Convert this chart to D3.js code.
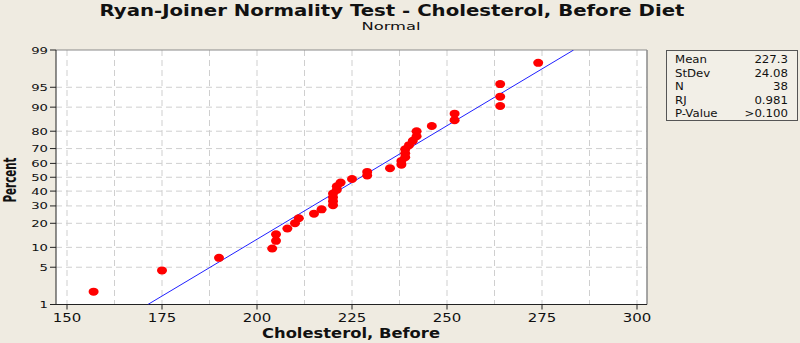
<!DOCTYPE html>
<html>
<head>
<meta charset="utf-8">
<script src="https://cdn.jsdelivr.net/npm/d3@7"></script>
<style>
  body { margin: 0; background: #efebe1; }
  text { font-family: "DejaVu Sans", Verdana, sans-serif; fill: #111; }
</style>
</head>
<body>
<div id="chart"></div>
<script>
// data (sorted cholesterol values)
const cholesterol = [157, 175, 190, 204, 205, 205, 208, 210, 211, 215, 217, 220, 220, 220, 220,
  221, 221, 222, 225, 229, 229, 235, 238, 238, 239, 239, 239, 240, 241, 242, 242, 246,
  252, 252, 264, 264, 264, 274];
const xTicks = [150, 175, 200, 225, 250, 275, 300];
const xGrid = [150, 162.5, 175, 187.5, 200, 212.5, 225, 237.5, 250, 262.5, 275, 287.5, 300];
const yTicks = [1, 5, 10, 20, 30, 40, 50, 60, 70, 80, 90, 95, 99];
const statLabels = ["Mean", "StDev", "N", "RJ", "P-Value"];
const statValues = ["227.3", "24.08", "38", "0.981", ">0.100"];
const fitMean = 227.3, fitSd = 24.08;

const width = 800, height = 343;
const plot = {l: 56, r: 647, t: 50, b: 304.5};

const svg = d3.select("#chart").append("svg")
    .attr("width", width)
    .attr("height", height)
    .style("background-color", "#efebe1");

// inverse normal cdf (Acklam)
function qnorm(p) {
  const a = [-39.69683028665376, 220.9460984245205, -275.9285104469687, 138.3577518672690, -30.66479806614716, 2.506628277459239];
  const b = [-54.47609879822406, 161.5858368580409, -155.6989798598866, 66.80131188771972, -13.28068155288572];
  const c = [-0.007784894002430293, -0.3223964580411365, -2.400758277161838, -2.549732539343734, 4.374664141464968, 2.938163982698783];
  const d = [0.007784695709041462, 0.3224671290700398, 2.445134137142996, 3.754408661907416];
  const pl = 0.02425;
  let q, r;
  if (p < pl) {
    q = Math.sqrt(-2 * Math.log(p));
    return (((((c[0]*q+c[1])*q+c[2])*q+c[3])*q+c[4])*q+c[5]) / ((((d[0]*q+d[1])*q+d[2])*q+d[3])*q+1);
  } else if (p <= 1 - pl) {
    q = p - 0.5; r = q * q;
    return (((((a[0]*r+a[1])*r+a[2])*r+a[3])*r+a[4])*r+a[5])*q / (((((b[0]*r+b[1])*r+b[2])*r+b[3])*r+b[4])*r+1);
  }
  q = Math.sqrt(-2 * Math.log(1 - p));
  return -(((((c[0]*q+c[1])*q+c[2])*q+c[3])*q+c[4])*q+c[5]) / ((((d[0]*q+d[1])*q+d[2])*q+d[3])*q+1);
}

const x = d3.scaleLinear().domain([150, 300]).range([67, 637]);
const yz = d3.scaleLinear().domain([qnorm(0.01), qnorm(0.99)]).range([plot.b, plot.t]);
const y = pct => yz(qnorm(pct / 100));

// plot area
svg.append("rect")
    .attr("x", plot.l).attr("y", plot.t)
    .attr("width", plot.r - plot.l).attr("height", plot.b - plot.t)
    .attr("fill", "white");

// grid
svg.append("g").selectAll("line")
    .data(xGrid)
    .join("line")
    .attr("x1", d => x(d)).attr("x2", d => x(d))
    .attr("y1", plot.t).attr("y2", plot.b)
    .attr("stroke", "#cfcfcf").attr("stroke-dasharray", "6,4");
svg.append("g").selectAll("line")
    .data(yTicks.filter(d => d > 1 && d < 99))
    .join("line")
    .attr("x1", plot.l).attr("x2", plot.r)
    .attr("y1", d => y(d)).attr("y2", d => y(d))
    .attr("stroke", "#cfcfcf").attr("stroke-dasharray", "6,4");

// frame
svg.append("line").attr("x1", plot.l).attr("x2", plot.r).attr("y1", plot.t).attr("y2", plot.t).attr("stroke", "#8a8a8a");
svg.append("line").attr("x1", plot.r).attr("x2", plot.r).attr("y1", plot.t).attr("y2", plot.b).attr("stroke", "#8a8a8a").attr("stroke-width", 1.5);
svg.append("line").attr("x1", plot.l).attr("x2", plot.l).attr("y1", plot.t).attr("y2", plot.b).attr("stroke", "#222");
svg.append("line").attr("x1", plot.l).attr("x2", plot.r).attr("y1", plot.b).attr("y2", plot.b).attr("stroke", "#222");

// fitted line
const fitPcts = [1, 99];
svg.append("clipPath").attr("id", "clip").append("rect")
    .attr("x", plot.l).attr("y", plot.t).attr("width", plot.r - plot.l).attr("height", plot.b - plot.t);
svg.append("path")
    .datum(fitPcts)
    .attr("clip-path", "url(#clip)")
    .attr("d", d3.line().x(p => x(fitMean + fitSd * qnorm(p / 100))).y(p => y(p)))
    .attr("stroke", "#2020ff").attr("stroke-width", 1).attr("fill", "none");

// points (median-rank plotting positions)
const n = cholesterol.length;
svg.append("g").selectAll("ellipse")
    .data(cholesterol)
    .join("ellipse")
    .attr("cx", d => x(d))
    .attr("cy", (d, i) => y(100 * (i + 1 - 0.3) / (n + 0.4)))
    .attr("rx", 5).attr("ry", 4)
    .attr("fill", "#ff0000");

// x ticks
const xt = svg.append("g").selectAll("g").data(xTicks).join("g");
xt.append("line").attr("x1", d => x(d)).attr("x2", d => x(d)).attr("y1", plot.b).attr("y2", plot.b + 5).attr("stroke", "#222");
xt.append("text").attr("transform", d => `translate(${x(d)},322) scale(1.15,1)`)
    .attr("text-anchor", "middle")
    .attr("font-size", "13px").text(d => d);

// y ticks
const yt = svg.append("g").selectAll("g").data(yTicks).join("g");
yt.append("line").attr("x1", plot.l - 6).attr("x2", plot.l).attr("y1", d => y(d)).attr("y2", d => y(d)).attr("stroke", "#222");
yt.append("text").attr("transform", d => `translate(48,${y(d) + 3.5}) scale(1.1,0.78)`)
    .attr("text-anchor", "end")
    .attr("font-size", "12px").text(d => d);

// titles
svg.append("text").attr("x", 392).attr("y", 16).attr("text-anchor", "middle")
    .attr("font-size", "15.5px").attr("font-weight", "bold")
    .attr("textLength", 585).attr("lengthAdjust", "spacingAndGlyphs")
    .text("Ryan-Joiner Normality Test - Cholesterol, Before Diet");
svg.append("text").attr("x", 391).attr("y", 29.5).attr("text-anchor", "middle")
    .attr("font-size", "11px")
    .attr("textLength", 59).attr("lengthAdjust", "spacingAndGlyphs")
    .text("Normal");
svg.append("text").attr("x", 351).attr("y", 338).attr("text-anchor", "middle")
    .attr("font-size", "13.5px").attr("font-weight", "bold")
    .attr("textLength", 178).attr("lengthAdjust", "spacingAndGlyphs")
    .text("Cholesterol, Before");
svg.append("text").attr("transform", "translate(16,180) rotate(-90)").attr("text-anchor", "middle")
    .attr("font-size", "17px").attr("font-weight", "bold")
    .attr("textLength", 45).attr("lengthAdjust", "spacingAndGlyphs")
    .text("Percent");

// stats box
svg.append("rect").attr("x", 666.5).attr("y", 50.5).attr("width", 131).attr("height", 70)
    .attr("fill", "#f2efe7").attr("stroke", "#555");
const st = svg.append("g").selectAll("g").data(statLabels).join("g");
st.append("text").attr("transform", (d, i) => `translate(675,${63 + i * 13.6}) scale(1.12,1)`)
    .attr("font-size", "10.5px").text(d => d);
st.append("text").attr("transform", (d, i) => `translate(788,${63 + i * 13.6}) scale(1.12,1)`)
    .attr("text-anchor", "end")
    .attr("font-size", "10.5px").text((d, i) => statValues[i]);
</script>
</body>
</html>
